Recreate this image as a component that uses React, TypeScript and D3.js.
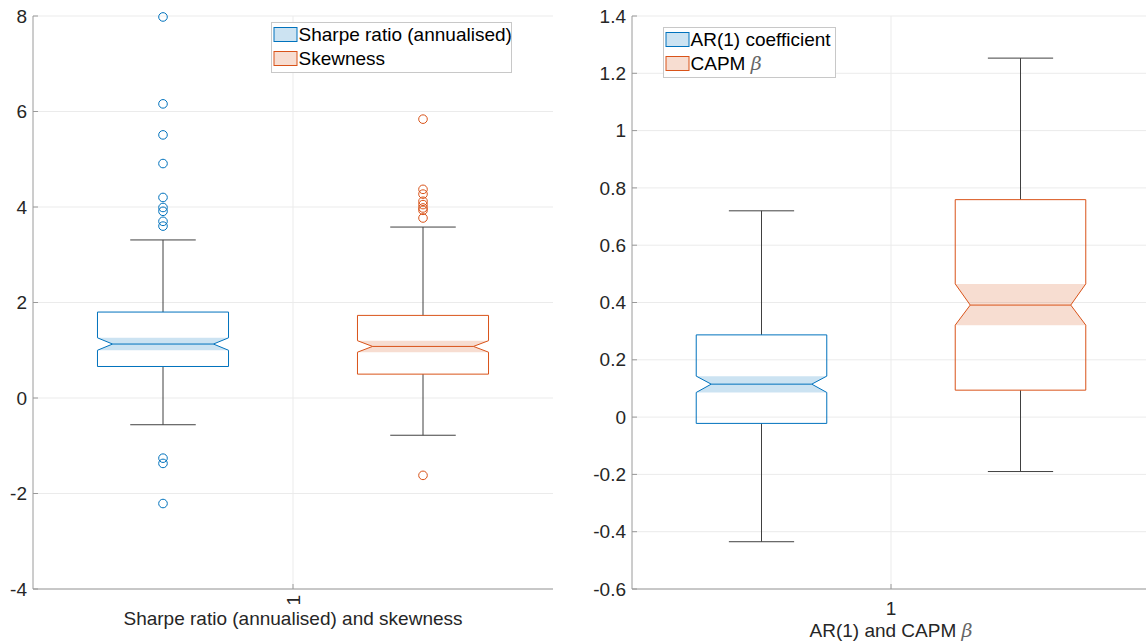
import React from "react";
import * as d3 from "d3";

// ---------- data ----------
const leftYTicks = [-4, -2, 0, 2, 4, 6, 8];
const rightYTicks = [-0.6, -0.4, -0.2, 0, 0.2, 0.4, 0.6, 0.8, 1, 1.2, 1.4];
const xTickLabels = ["1"];

// stats: [lowerWhisker, q1, notchLow, median, notchHigh, q3, upperWhisker]
const sharpeStats = [-0.56, 0.66, 1.0, 1.13, 1.26, 1.8, 3.31];
const sharpeOutliers = [7.98, 6.16, 5.51, 4.91, 4.2, 3.99, 3.91, 3.7, 3.6, -1.26, -1.37, -2.21];
const skewStats = [-0.78, 0.5, 0.96, 1.08, 1.2, 1.73, 3.58];
const skewOutliers = [5.84, 4.37, 4.27, 4.12, 4.05, 3.98, 3.93, 3.77, -1.62];
const ar1Stats = [-0.435, -0.022, 0.086, 0.115, 0.143, 0.287, 0.72];
const ar1Outliers: number[] = [];
const capmStats = [-0.19, 0.094, 0.321, 0.391, 0.465, 0.759, 1.253];
const capmOutliers: number[] = [];

const leftNames = ["Sharpe ratio (annualised)", "Skewness"];
const rightNames = ["AR(1) coefficient", "CAPM"];

const BLUE = "#0072BD";
const ORANGE = "#D95319";
const FONT = "'Liberation Sans', Arial, Helvetica, sans-serif";
const FS = 19;

type Series = { stats: number[]; outliers: number[]; color: string; pos: number };

function Box({ s, x, y, bw }: { s: Series; x: d3.ScaleLinear<number, number>; y: d3.ScaleLinear<number, number>; bw: number }) {
  const [lw, q1, nl, med, nh, q3, uw] = s.stats;
  const cx = x(s.pos);
  const w = x(s.pos + bw / 2) - x(s.pos - bw / 2);
  const l = cx - w / 2;
  const r = cx + w / 2;
  const ind = w * 0.115;
  const capW = w / 2;
  const outline = [
    [l, y(q3)], [r, y(q3)], [r, y(nh)], [r - ind, y(med)], [r, y(nl)], [r, y(q1)],
    [l, y(q1)], [l, y(nl)], [l + ind, y(med)], [l, y(nh)],
  ];
  const notch = [
    [l, y(nh)], [l + ind, y(med)], [l, y(nl)], [r, y(nl)], [r - ind, y(med)], [r, y(nh)],
  ];
  const line = d3.line();
  const wc = "#404040";
  return (
    <g>
      <line x1={cx} x2={cx} y1={y(q3)} y2={y(uw)} stroke={wc} strokeWidth={1} />
      <line x1={cx} x2={cx} y1={y(q1)} y2={y(lw)} stroke={wc} strokeWidth={1} />
      <line x1={cx - capW / 2} x2={cx + capW / 2} y1={y(uw)} y2={y(uw)} stroke={wc} strokeWidth={1} />
      <line x1={cx - capW / 2} x2={cx + capW / 2} y1={y(lw)} y2={y(lw)} stroke={wc} strokeWidth={1} />
      <path d={line(notch as [number, number][]) + "Z"} fill={s.color} fillOpacity={0.2} stroke="none" />
      <path d={line(outline as [number, number][]) + "Z"} fill="none" stroke={s.color} strokeWidth={1} />
      <line x1={l + ind} x2={r - ind} y1={y(med)} y2={y(med)} stroke={s.color} strokeWidth={1} />
      {s.outliers.map((o, i) => (
        <circle key={i} cx={cx} cy={y(o)} r={4.3} fill="none" stroke={s.color} strokeWidth={1} />
      ))}
    </g>
  );
}

function Panel(props: {
  left: number; right: number; top: number; bottom: number;
  domain: [number, number]; ticks: number[]; series: Series[];
  rotateTick: boolean; xlabel: React.ReactNode;
  legend: { x: number; y: number; w: number; names: React.ReactNode[] };
}) {
  const { left, right, top, bottom, domain, ticks, series, rotateTick, xlabel, legend } = props;
  const y = d3.scaleLinear().domain(domain).range([bottom, top]);
  const x = d3.scaleLinear().domain([0.5, 1.5]).range([left, right]);
  const axisC = "#9a9a9a";
  const gridC = "#ebebeb";
  const fmt = (v: number) => String(Math.round(v * 10) / 10);
  return (
    <g fontFamily={FONT}>
      {ticks.map((t) => (
        <line key={"g" + t} x1={left} x2={right} y1={y(t)} y2={y(t)} stroke={gridC} strokeWidth={1} />
      ))}
      <line x1={x(1)} x2={x(1)} y1={top} y2={bottom} stroke={gridC} strokeWidth={1} />
      {series.map((s, i) => (
        <Box key={i} s={s} x={x} y={y} bw={0.252} />
      ))}
      <line x1={left} x2={left} y1={top} y2={bottom} stroke={axisC} strokeWidth={1} />
      <line x1={left} x2={right} y1={bottom} y2={bottom} stroke={axisC} strokeWidth={1} />
      {ticks.map((t) => (
        <g key={"t" + t}>
          <line x1={left} x2={left + 5} y1={y(t)} y2={y(t)} stroke={axisC} />
          <text x={left - 6} y={y(t)} dy="0.35em" textAnchor="end" fontSize={FS} fill="#262626">
            {fmt(t)}
          </text>
        </g>
      ))}
      <line x1={x(1)} x2={x(1)} y1={bottom} y2={bottom - 5} stroke={axisC} />
      {rotateTick ? (
        <text transform={`translate(${x(1)},${bottom + 6}) rotate(-90)`} textAnchor="end" dy="0.35em" fontSize={FS} fill="#262626">
          {xTickLabels[0]}
        </text>
      ) : (
        <text x={x(1)} y={bottom + 26} textAnchor="middle" fontSize={FS} fill="#262626">
          {xTickLabels[0]}
        </text>
      )}
      <text x={x(1)} y={rotateTick ? bottom + 36 : bottom + 48} textAnchor="middle" fontSize={FS} fill="#262626">
        {xlabel}
      </text>
      <g>
        <rect x={legend.x} y={legend.y} width={legend.w} height={50} fill="#fff" stroke="#c8c8c8" strokeWidth={1} />
        {series.map((s, i) => (
          <g key={"l" + i}>
            <rect x={legend.x + 2.5} y={legend.y + 5 + i * 24} width={23} height={14} fill={s.color} fillOpacity={0.2} stroke={s.color} strokeWidth={1} />
            <text x={legend.x + 27} y={legend.y + 12 + i * 24} dy="0.35em" fontSize={FS} fill="#000">
              {legend.names[i]}
            </text>
          </g>
        ))}
      </g>
    </g>
  );
}

export default function App() {
  const leftSeries: Series[] = [
    { stats: sharpeStats, outliers: sharpeOutliers, color: BLUE, pos: 0.75 },
    { stats: skewStats, outliers: skewOutliers, color: ORANGE, pos: 1.25 },
  ];
  const rightSeries: Series[] = [
    { stats: ar1Stats, outliers: ar1Outliers, color: BLUE, pos: 0.75 },
    { stats: capmStats, outliers: capmOutliers, color: ORANGE, pos: 1.25 },
  ];
  const beta = <tspan fontFamily="'DejaVu Serif', serif" fontStyle="italic" fill="#666">β</tspan>;
  return (
    <svg width={1146} height={642} style={{ position: "fixed", left: 0, top: 0, background: "#fff" }}>
      <rect width={1146} height={642} fill="#fff" />
      <Panel
        left={33} right={553} top={16} bottom={589}
        domain={[-4, 8]} ticks={leftYTicks} series={leftSeries}
        rotateTick={true}
        xlabel="Sharpe ratio (annualised) and skewness"
        legend={{ x: 271.5, y: 22.5, w: 240, names: [leftNames[0], leftNames[1]] }}
      />
      <Panel
        left={632} right={1150} top={16} bottom={589}
        domain={[-0.6, 1.4]} ticks={rightYTicks} series={rightSeries}
        rotateTick={false}
        xlabel={<>{"AR(1) and CAPM "}{beta}</>}
        legend={{ x: 663.5, y: 27.5, w: 172, names: [rightNames[0], <>{rightNames[1] + " "}{beta}</>] }}
      />
    </svg>
  );
}
